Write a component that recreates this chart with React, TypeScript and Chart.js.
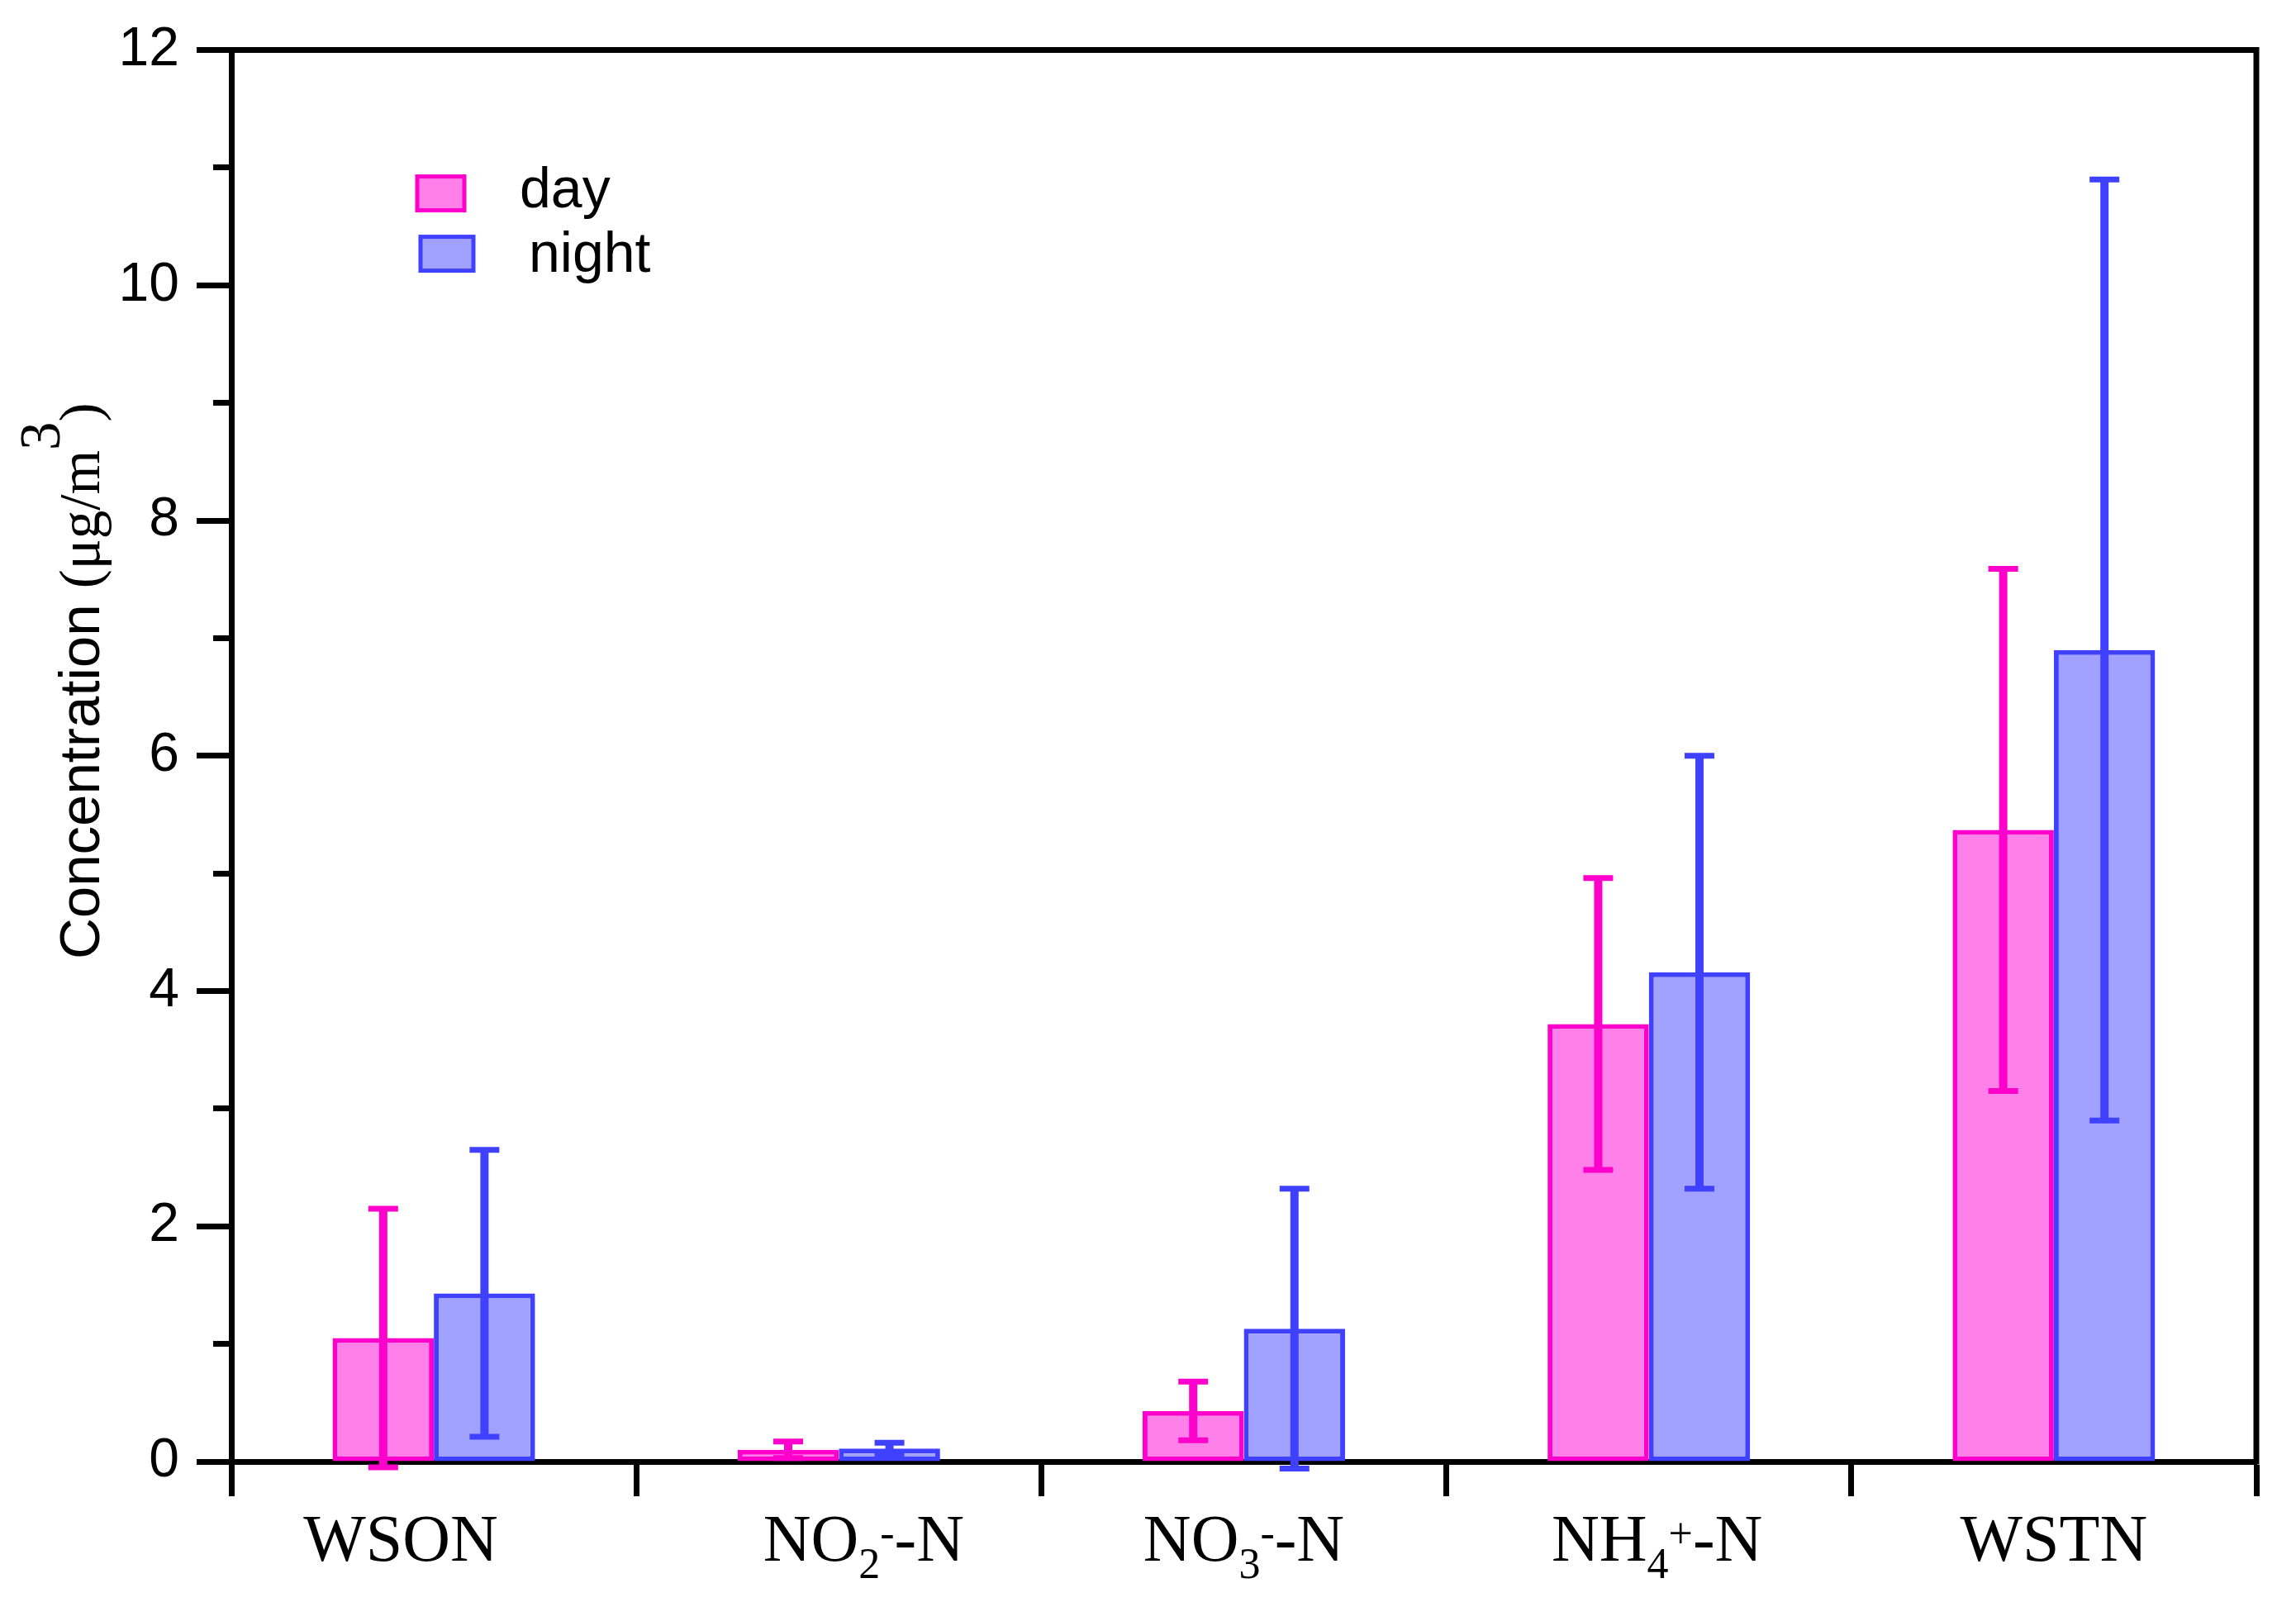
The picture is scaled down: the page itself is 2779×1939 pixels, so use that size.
import React, { useEffect, useRef } from 'react';
import { Chart, registerables } from 'chart.js';

Chart.register(...registerables);

// ---- data ----
// (spaces in the category names reproduce the original label placement)
const categories = ['WSON    ', '   NO_{2}^{-}-N', 'NO_{3}^{-}-N', ' NH_{4}^{+}-N', 'WSTN'];
const seriesNames = ['day', 'night'];
const dayMean = [1.05, 0.10, 0.43, 3.72, 5.37];
const daySd = [1.10, 0.07, 0.25, 1.24, 2.22];
const nightMean = [1.43, 0.11, 1.13, 4.16, 6.90];
const nightSd = [1.22, 0.05, 1.19, 1.84, 4.00];
const yTickLabels = [0, 2, 4, 6, 8, 10, 12];
const yTitleParts = [
  { text: 'Concentration ', font: 'sans', raise: 0 },
  { text: '(\u03BCg/m', font: 'serif', raise: 0 },
  { text: '3', font: 'serif', raise: 48 },
  { text: ')', font: 'serif', raise: 0 },
];

const W = 2779;
const H = 1939;
const SANS = '"Liberation Sans", Arial, sans-serif';
const SERIF = '"Liberation Serif", "Times New Roman", serif';

type Part = { text: string; kind: 'n' | 'sub' | 'sup' };
function parseRich(s: string): Part[] {
  const parts: Part[] = [];
  const re = /(_|\^)\{([^}]*)\}|([^_^]+)/g;
  let m: RegExpExecArray | null;
  while ((m = re.exec(s)) !== null) {
    if (m[3] !== undefined) parts.push({ text: m[3], kind: 'n' });
    else parts.push({ text: m[2], kind: m[1] === '_' ? 'sub' : 'sup' });
  }
  return parts;
}

const errorBarPlugin = {
  id: 'errorBars',
  afterDatasetsDraw(chart: any) {
    const ctx = chart.ctx;
    const ys = chart.scales.y;
    chart.data.datasets.forEach((ds: any, d: number) => {
      const meta = chart.getDatasetMeta(d);
      meta.data.forEach((el: any, i: number) => {
        const m = ds.data[i];
        const s = ds.errors[i];
        const yt = ys.getPixelForValue(m + s);
        const yb = ys.getPixelForValue(m - s);
        const x = el.x;
        ctx.save();
        ctx.strokeStyle = ds.borderColor;
        ctx.lineCap = 'butt';
        ctx.lineWidth = 10;
        ctx.beginPath();
        ctx.moveTo(x, yb);
        ctx.lineTo(x, yt);
        ctx.stroke();
        ctx.lineWidth = 7;
        ctx.beginPath();
        ctx.moveTo(x - 18, yt);
        ctx.lineTo(x + 18, yt);
        ctx.moveTo(x - 18, yb);
        ctx.lineTo(x + 18, yb);
        ctx.stroke();
        ctx.restore();
      });
    });
  },
};

const framePlugin = {
  id: 'frame',
  afterDraw(chart: any) {
    const { ctx, chartArea } = chart;
    ctx.save();
    ctx.strokeStyle = '#000';
    ctx.lineWidth = 7;
    ctx.lineCap = 'square';
    ctx.beginPath();
    ctx.moveTo(chartArea.left, chartArea.top);
    ctx.lineTo(chartArea.right, chartArea.top);
    ctx.lineTo(chartArea.right, chartArea.bottom);
    ctx.stroke();
    ctx.restore();
  },
};

const xLabelPlugin = {
  id: 'xLabels',
  afterDraw(chart: any) {
    const ctx = chart.ctx;
    const xs = chart.scales.x;
    const baseY = chart.chartArea.bottom + 120;
    const mainFont = `80px ${SERIF}`;
    const smallFont = `52px ${SERIF}`;
    ctx.save();
    ctx.fillStyle = '#000';
    ctx.textBaseline = 'alphabetic';
    ctx.textAlign = 'left';
    (chart.data.labels as string[]).forEach((lab, i) => {
      const parts = parseRich(lab);
      let w = 0;
      const widths = parts.map((p) => {
        ctx.font = p.kind === 'n' ? mainFont : smallFont;
        const mw = ctx.measureText(p.text).width;
        w += mw;
        return mw;
      });
      let x = xs.getPixelForValue(i) - w / 2;
      parts.forEach((p, k) => {
        ctx.font = p.kind === 'n' ? mainFont : smallFont;
        const dy = p.kind === 'sub' ? 21 : p.kind === 'sup' ? -16 : 0;
        ctx.fillText(p.text, x, baseY + dy);
        x += widths[k];
      });
    });
    ctx.restore();
  },
};

const yTitlePlugin = {
  id: 'yTitle',
  afterDraw(chart: any) {
    const ctx = chart.ctx;
    const { chartArea } = chart;
    ctx.save();
    ctx.translate(chartArea.left - 160, chartArea.bottom - 608);
    ctx.rotate(-Math.PI / 2);
    ctx.fillStyle = '#000';
    ctx.textBaseline = 'alphabetic';
    ctx.textAlign = 'left';
    let x = 0;
    yTitleParts.forEach((p) => {
      ctx.font = `69px ${p.font === 'sans' ? SANS : SERIF}`;
      ctx.fillText(p.text, x, -p.raise);
      x += ctx.measureText(p.text).width;
    });
    ctx.restore();
  },
};

const legendPlugin = {
  id: 'customLegend',
  afterDraw(chart: any) {
    const ctx = chart.ctx;
    const { chartArea } = chart;
    const bx = chartArea.left + 225;
    const by = chartArea.top + 153;
    ctx.save();
    chart.data.datasets.forEach((ds: any, i: number) => {
      const y = by + i * 73;
      const x = bx + i * 4;
      const w = 57 + i * 7;
      ctx.fillStyle = ds.backgroundColor;
      ctx.fillRect(x, y, w, 41);
      ctx.strokeStyle = ds.borderColor;
      ctx.lineWidth = 5;
      ctx.strokeRect(x, y, w, 41);
      ctx.fillStyle = '#000';
      ctx.font = `68px ${SANS}`;
      ctx.textBaseline = 'alphabetic';
      ctx.textAlign = 'left';
      ctx.fillText(ds.label, bx + 124 + i * 11, by + 37 + i * 78);
    });
    ctx.restore();
  },
};

export default function App() {
  const ref = useRef<HTMLCanvasElement | null>(null);

  useEffect(() => {
    if (!ref.current) return;
    const chart = new Chart(ref.current, {
      type: 'bar',
      data: {
        labels: categories,
        datasets: [
          {
            label: seriesNames[0],
            data: dayMean,
            errors: daySd,
            backgroundColor: '#FF80E8',
            borderColor: '#FF00CC',
            borderWidth: 6,
            borderSkipped: false,
            categoryPercentage: 0.5,
            barPercentage: 1.0,
          } as any,
          {
            label: seriesNames[1],
            data: nightMean,
            errors: nightSd,
            backgroundColor: '#A1A1FF',
            borderColor: '#4040FF',
            borderWidth: 6,
            borderSkipped: false,
            categoryPercentage: 0.5,
            barPercentage: 1.0,
          } as any,
        ],
      },
      options: {
        responsive: false,
        animation: false,
        devicePixelRatio: 1,
        layout: { padding: { left: 0, right: W - 2731, top: 50, bottom: 0 } },
        plugins: {
          legend: { display: false },
          tooltip: { enabled: false },
          title: { display: false },
        },
        scales: {
          x: {
            type: 'category',
            offset: true,
            grid: {
              display: true,
              offset: true,
              drawOnChartArea: false,
              drawTicks: true,
              tickLength: 42,
              tickWidth: 7,
              tickColor: '#000',
            },
            border: { display: true, width: 7, color: '#000' },
            ticks: { display: false },
            afterFit: (scale: any) => {
              scale.height = H - 1769;
            },
          },
          y: {
            type: 'linear',
            min: yTickLabels[0],
            max: yTickLabels[yTickLabels.length - 1],
            grid: {
              display: true,
              drawOnChartArea: false,
              drawTicks: true,
              tickLength: 42,
              tickWidth: 7,
              tickColor: '#000',
              tickBorderDash: (c: any) =>
                c.tick && !yTickLabels.includes(c.tick.value) ? [0, 20, 200] : [],
            },
            border: { display: true, width: 7, color: '#000' },
            ticks: {
              stepSize: 1,
              autoSkip: false,
              padding: 21,
              color: '#000',
              font: { family: SANS, size: 66 },
              callback: (v: any) => (yTickLabels.includes(Number(v)) ? String(v) : ''),
            },
            afterFit: (scale: any) => {
              scale.width = 280;
            },
          },
        },
      } as any,
      plugins: [errorBarPlugin, framePlugin, xLabelPlugin, yTitlePlugin, legendPlugin],
    });
    return () => chart.destroy();
  }, []);

  return (
    <div style={{ position: 'absolute', left: 0, top: 0, width: W, height: H, background: '#fff' }}>
      <canvas ref={ref} width={W} height={H} style={{ display: 'block', width: W, height: H }} />
    </div>
  );
}
